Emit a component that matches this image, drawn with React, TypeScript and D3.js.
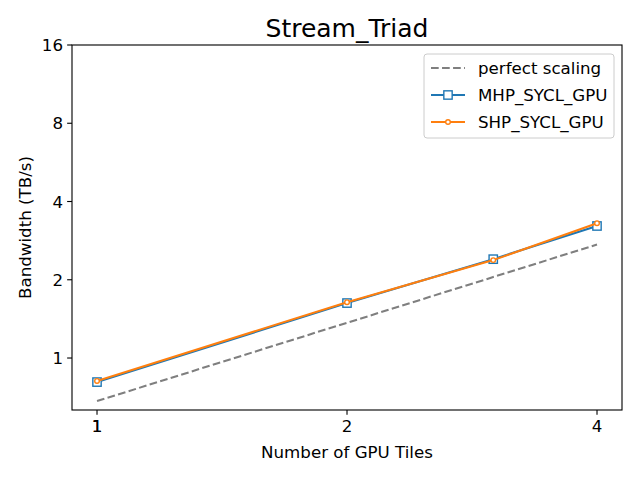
import React from "react";
import * as d3 from "d3";

const tiles = [1, 2, 3, 4];
const perfect = [0.683, 1.366, 2.049, 2.732];
const mhp = [0.808, 1.627, 2.4, 3.22];
const shp = [0.816, 1.64, 2.38, 3.3];
const xTicks = [1, 2, 4];
const yTicks = [1, 2, 4, 8, 16];
const title = "Stream_Triad";
const xLabel = "Number of GPU Tiles";
const yLabel = "Bandwidth (TB/s)";
const seriesNames = ["perfect scaling", "MHP_SYCL_GPU", "SHP_SYCL_GPU"];

const W = 640, H = 480;
const M = { left: 72, right: 622, top: 45, bottom: 410 };
const font = "DejaVu Sans, sans-serif";

export default function App() {
  const x = d3.scaleLog().base(2).domain([0.933, 4.287]).range([M.left, M.right]);
  const y = d3.scaleLog().base(2).domain([0.631, 16]).range([M.bottom, M.top]);
  const line = d3.line<[number, number]>().x(d => x(d[0])).y(d => y(d[1]));
  const pts = (v: number[]) => tiles.map((t, i) => [t, v[i]] as [number, number]);
  const blue = "#1f77b4", orange = "#ff7f0e", grey = "#7f7f7f";
  const lw = 2.08, dash = "7.7,3.33";
  const lx = 431, ly0 = 68, lstep = 27;
  return (
    <svg width={W} height={H} style={{ display: "block", position: "absolute", left: 0, top: 0 }} fontFamily={font}>
      <rect x={0} y={0} width={W} height={H} fill="white" />
      <text x={(M.left + M.right) / 2} y={37} textAnchor="middle" fontSize={25}>{title}</text>
      {/* lines */}
      <path d={line(pts(perfect)) || ""} fill="none" stroke={grey} strokeWidth={lw} strokeDasharray={dash} />
      <path d={line(pts(mhp)) || ""} fill="none" stroke={blue} strokeWidth={lw} />
      {pts(mhp).map((p, i) => (
        <rect key={"m" + i} x={x(p[0]) - 4.17} y={y(p[1]) - 4.17} width={8.33} height={8.33} fill="white" stroke={blue} strokeWidth={1.39} />
      ))}
      <path d={line(pts(shp)) || ""} fill="none" stroke={orange} strokeWidth={lw} />
      {pts(shp).map((p, i) => (
        <circle key={"s" + i} cx={x(p[0])} cy={y(p[1])} r={2.3} fill="white" stroke={orange} strokeWidth={1.39} />
      ))}
      {/* axes frame */}
      <rect x={M.left} y={M.top} width={M.right - M.left} height={M.bottom - M.top} fill="none" stroke="black" strokeWidth={1.11} />
      {xTicks.map(t => (
        <g key={"xt" + t}>
          <line x1={x(t)} x2={x(t)} y1={M.bottom} y2={M.bottom + 4.86} stroke="black" strokeWidth={1.11} />
          <text x={x(t)} y={M.bottom + 22} textAnchor="middle" fontSize={16.67}>{t}</text>
          {t === 1 && <text x={x(t)} y={M.bottom + 22} textAnchor="middle" fontSize={16.67}>{t}</text>}
        </g>
      ))}
      {yTicks.map(t => (
        <g key={"yt" + t}>
          <line x1={M.left - 4.86} x2={M.left} y1={y(t)} y2={y(t)} stroke="black" strokeWidth={1.11} />
          <text x={M.left - 9} y={y(t) + 6} textAnchor="end" fontSize={16.67}>{t}</text>
        </g>
      ))}
      <text x={(M.left + M.right) / 2} y={458} textAnchor="middle" fontSize={16.67}>{xLabel}</text>
      <text transform={`translate(31,${(M.top + M.bottom) / 2}) rotate(-90)`} textAnchor="middle" fontSize={16.67}>{yLabel}</text>
      {/* legend */}
      <rect x={424} y={54} width={190} height={84} rx={3} fill="white" fillOpacity={0.8} stroke="#cccccc" strokeWidth={1} />
      <line x1={lx} x2={lx + 34} y1={ly0} y2={ly0} stroke={grey} strokeWidth={lw} strokeDasharray={dash} />
      <line x1={lx} x2={lx + 34} y1={ly0 + lstep} y2={ly0 + lstep} stroke={blue} strokeWidth={lw} />
      <rect x={lx + 17 - 4.17} y={ly0 + lstep - 4.17} width={8.33} height={8.33} fill="white" stroke={blue} strokeWidth={1.39} />
      <line x1={lx} x2={lx + 34} y1={ly0 + 2 * lstep} y2={ly0 + 2 * lstep} stroke={orange} strokeWidth={lw} />
      <circle cx={lx + 17} cy={ly0 + 2 * lstep} r={2.3} fill="white" stroke={orange} strokeWidth={1.39} />
      {seriesNames.map((n, i) => (
        <text key={n} x={478} y={ly0 + i * lstep + 6} fontSize={16.67}>{n}</text>
      ))}
    </svg>
  );
}
